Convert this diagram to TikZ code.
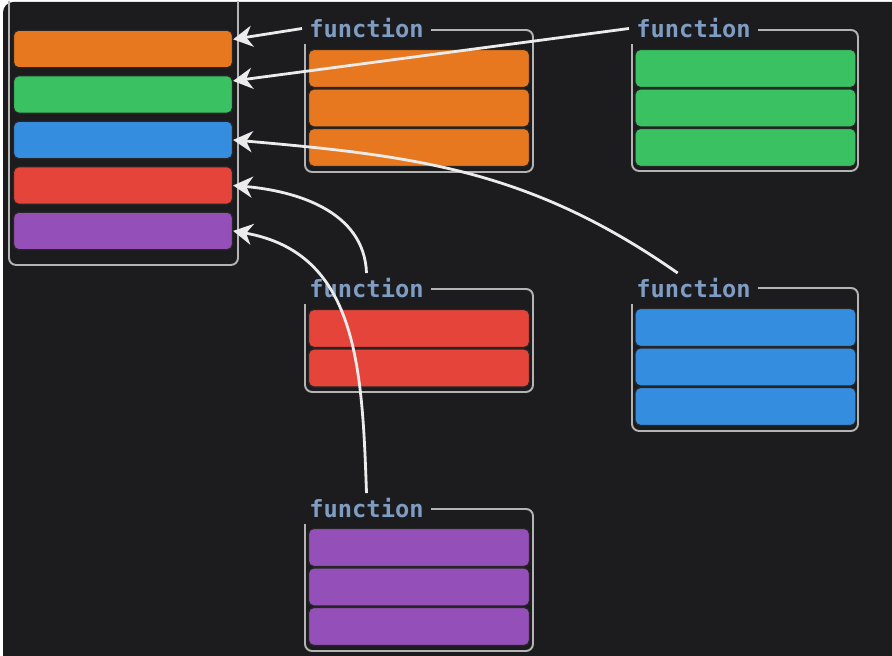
\documentclass[tikz,border=0pt]{standalone}
\usepackage{fontspec}
\setmonofont{DejaVu Sans Mono}
\usetikzlibrary{arrows.meta}
\definecolor{bg}{HTML}{1C1C1E}
\definecolor{frame}{HTML}{B4B4B4}
\definecolor{lbl}{HTML}{7F9CC2}
\definecolor{orng}{HTML}{E8781F}
\definecolor{grn}{HTML}{3AC262}
\definecolor{blu}{HTML}{358DDF}
\definecolor{rd}{HTML}{E4443A}
\definecolor{prp}{HTML}{9450B8}
\tikzstyle{slot} = [rectangle, draw=black!85, line width=0.7pt, rounded corners=3pt,
    minimum width=4.38cm, minimum height=0.75cm]
\tikzstyle{cell} = [rectangle, draw=black!85, line width=0.7pt, rounded corners=3pt,
    minimum width=4.42cm, minimum height=0.76cm]
\tikzstyle{fn} = [anchor=base west, fill=bg, text=lbl, inner xsep=4pt, inner ysep=3pt,
    font=\ttfamily\bfseries\fontsize{13.5}{16}\selectfont]
\tikzstyle{box} = [draw=frame, line width=1.1pt, rounded corners=4pt]
\tikzstyle{line} = [draw=white!92!black, line width=1.6pt,
    -{Stealth[length=11pt,width=12pt,inset=3.5pt]}]
\begin{document}
\begin{tikzpicture}[x=0.02cm, y=0.02cm]
    % Background
    \fill[white] (0,0) rectangle (892,-655);
    \fill[bg] (3,-655) [rounded corners=6pt] -- (3,-1) [sharp corners] -- (892,-1) -- (892,-655) -- cycle;
    % Place nodes
    \draw[box] (9,0) -- (9,-264) -- (238,-264) -- (238,0);
    \node [slot, fill=orng] (sb1) at (123,-48) {};
    \node [slot, fill=grn, below of=sb1, node distance=0.91cm] (sb2) {};
    \node [slot, fill=blu, below of=sb2, node distance=0.91cm] (sb3) {};
    \node [slot, fill=rd, below of=sb3, node distance=0.91cm] (sb4) {};
    \node [slot, fill=prp, below of=sb4, node distance=0.91cm] (sb5) {};

    \draw[box] (305,-29) rectangle (533,-171);
    \node [fn] (olbl) at (302,-37) {function};
    \node [cell, fill=orng] (o1) at (419,-67.5) {};
    \node [cell, fill=orng, below of=o1, node distance=0.79cm] (o2) {};
    \node [cell, fill=orng, below of=o2, node distance=0.79cm] (o3) {};

    \draw[box] (632,-29) rectangle (858,-170);
    \node [fn] (glbl) at (629,-37) {function};
    \node [cell, fill=grn] (g1) at (745.5,-67.5) {};
    \node [cell, fill=grn, below of=g1, node distance=0.79cm] (g2) {};
    \node [cell, fill=grn, below of=g2, node distance=0.79cm] (g3) {};

    \draw[box] (305,-288) rectangle (533,-391);
    \node [fn] (rlbl) at (302,-297) {function};
    \node [cell, fill=rd] (r1) at (419,-327.5) {};
    \node [cell, fill=rd, below of=r1, node distance=0.79cm] (r2) {};

    \draw[box] (632,-287) rectangle (858,-430);
    \node [fn] (blbl) at (629,-297) {function};
    \node [cell, fill=blu] (b1) at (745.5,-326.5) {};
    \node [cell, fill=blu, below of=b1, node distance=0.79cm] (b2) {};
    \node [cell, fill=blu, below of=b2, node distance=0.79cm] (b3) {};

    \draw[box] (305,-508) rectangle (533,-650);
    \node [fn] (plbl) at (302,-517) {function};
    \node [cell, fill=prp] (p1) at (419,-546.5) {};
    \node [cell, fill=prp, below of=p1, node distance=0.79cm] (p2) {};
    \node [cell, fill=prp, below of=p2, node distance=0.79cm] (p3) {};
    % Draw edges
    \path [line] (olbl.west) -- (sb1.5);
    \path [line] (glbl.west) -- (sb2.7);
    \path [line] ([xshift=-9pt]blbl.north) to[out=145, in=-5] (sb3.east);
    \path [line] (rlbl.north) to[out=92, in=-5] (sb4.east);
    \path [line] (plbl.north) to[out=92, in=-10, looseness=1.1] (sb5.east);
\end{tikzpicture}
\end{document}
